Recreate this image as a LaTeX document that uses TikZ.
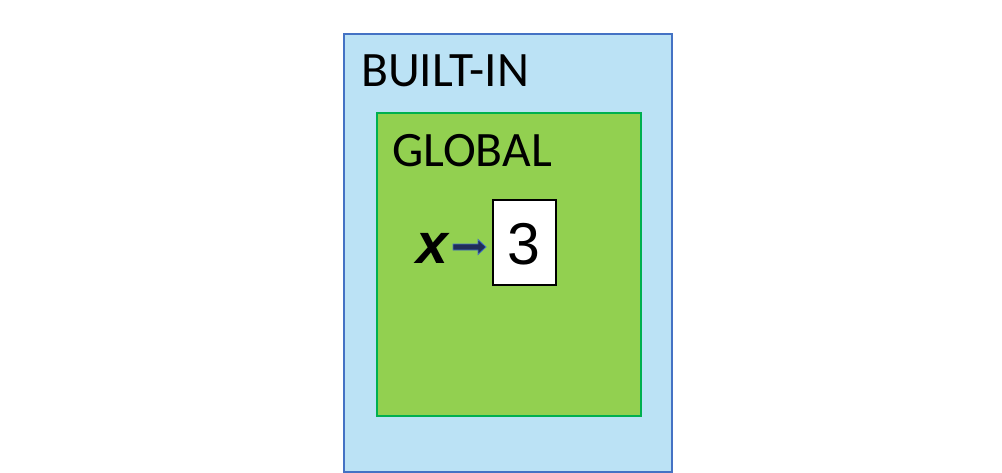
\documentclass[tikz,border=0pt]{standalone}
\usepackage{fontspec}
\setmainfont{Carlito}
\newfontfamily\arialf{Liberation Sans}
\definecolor{outerF}{HTML}{BBE2F5}
\definecolor{outerB}{HTML}{4472C4}
\definecolor{innerF}{HTML}{92D050}
\definecolor{innerB}{HTML}{00B050}
\definecolor{arrF}{HTML}{1F2D5A}
\tikzset{
  scopebox/.style={anchor=north west, inner sep=0pt, line width=1.5pt},
  scopelabel/.style={anchor=base west, inner sep=0pt, font=\fontsize{49.5}{58}\selectfont},
}
\begin{document}
\begin{tikzpicture}[x=1pt,y=-1pt]
\useasboundingbox (0,0) rectangle (1002,472);
\node[scopebox, draw=outerB, fill=outerF, minimum width=328pt, minimum height=438pt] (builtin) at (343,33) {};
\node[scopelabel] (builtinlbl) at (361,86) {BUILT-IN};
\node[scopebox, draw=innerB, fill=innerF, minimum width=264pt, minimum height=303pt] (global) at (376,112) {};
\node[scopelabel] (globallbl) at (392,166) {GLOBAL};
\node[anchor=base, inner sep=0pt, font=\arialf\bfseries\itshape\fontsize{57}{60}\selectfont] (x) at (432,263) {x};
\node[draw=black, fill=white, line width=1.8pt, anchor=north west, inner sep=0pt, minimum width=63pt, minimum height=85pt] (val) at (492,199) {};
\node[anchor=base, inner sep=0pt, font=\arialf\fontsize{59}{60}\selectfont] (three) at (val.center |- 0,264) {3};
\coordinate (tail) at (453,247);
\draw[draw=outerB, fill=arrF, line width=0.8pt]
  (tail) ++(0,-3) -- ++(25,0) -- ++(0,-4.5) -- ++(8,7.5) -- ++(-8,7.5) -- ++(0,-4.5) -- ++(-25,0) -- cycle;
\end{tikzpicture}
\end{document}
